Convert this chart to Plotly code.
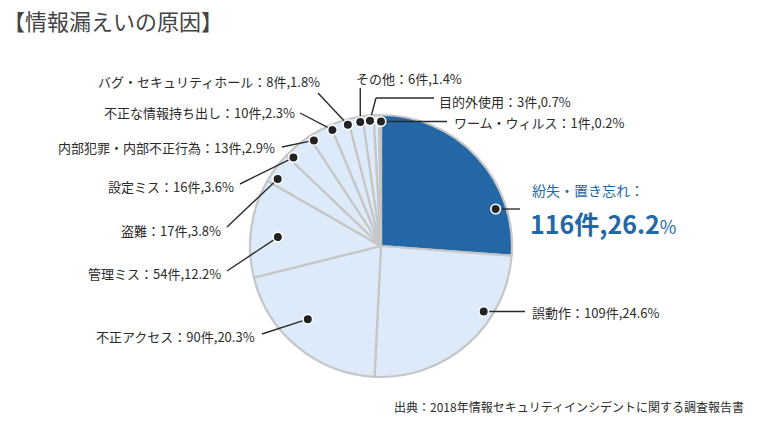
import math
import plotly.graph_objects as go

# ---- data ----
causes = ["紛失・置き忘れ", "誤動作", "不正アクセス", "管理ミス", "盗難", "設定ミス",
          "内部犯罪・内部不正行為", "不正な情報持ち出し", "バグ・セキュリティホール",
          "その他", "目的外使用", "ワーム・ウィルス"]
counts = [116, 109, 90, 54, 17, 16, 13, 10, 8, 6, 3, 1]
title_text = "【情報漏えいの原因】"
source_text = "出典：2018年情報セキュリティインシデントに関する調査報告書"

# ---- style / layout ----
W, H = 760, 429
CX, CY, R = 381, 246, 131
DARK = "#2467a7"
LIGHT = "#dceaf9"
EDGE = "#c6c6c6"
TXT = "#2b2b2b"
FONT = "Noto Sans CJK JP"

colors = [DARK] + [LIGHT] * (len(counts) - 1)
# leader-dot placement: angular shift (deg) from slice middle and radial fraction
dot_shift = [25, -16, 5.6, -3, -3.8, -4.9, -4.4, -4, -3.9, -3.8, -3, 0.4]
dot_rf = [0.92, 0.93, 0.79, 0.79, 0.94, 0.95, 0.955, 0.96, 0.96, 0.96, 0.96, 0.95]
# label anchor (x, y, xanchor), leader end (x, y) ; None -> take dot coordinate
label_pos = [None, (530, 312, "left"), (257, 336, "right"), (223, 273, "right"),
             (223, 230, "right"), (236, 186, "right"), (277, 147, "right"),
             (297, 112, "right"), (322, 81, "right"), (409, 78, "center"),
             (437, 101, "left"), (452, 122, "left")]
leader_end = [(520, None), (525, None), (262, 334), (227, 271), (227, 227), (240, 184),
              (282, 147), (300, 113), (318, 93), (None, 88), (434, 98), (447, None)]
elbow = [False] * 10 + [True, False]

total = sum(counts)

fig = go.Figure()
fig.add_trace(go.Pie(
    values=counts, labels=causes, sort=False, direction="clockwise", rotation=0,
    marker=dict(colors=colors, line=dict(color=EDGE, width=2.2)),
    textinfo="none", hoverinfo="skip", showlegend=False,
    domain=dict(x=[(CX - R) / W, (CX + R) / W], y=[1 - (CY + R) / H, 1 - (CY - R) / H]),
))
# invisible trace to activate cartesian axes used for leader shapes
fig.add_trace(go.Scatter(x=[0, W], y=[0, H], mode="markers", marker=dict(opacity=0),
                         hoverinfo="skip", showlegend=False))

# dot positions from data
dots_x, dots_y = [], []
cum = 0
for i, c in enumerate(counts):
    mid = (cum + c / 2) / total * 360 + dot_shift[i]
    cum += c
    rr = R * dot_rf[i]
    dots_x.append(CX + rr * math.sin(math.radians(mid)))
    dots_y.append(CY - rr * math.cos(math.radians(mid)))

shapes = []
for i in range(len(counts)):
    ex, ey = leader_end[i]
    ex = dots_x[i] if ex is None else ex
    ey = dots_y[i] if ey is None else ey
    pts = [(dots_x[i], dots_y[i])]
    if elbow[i]:
        pts.append((dots_x[i] + 6, ey))
    pts.append((ex, ey))
    for (x0, y0), (x1, y1) in zip(pts[:-1], pts[1:]):
        shapes.append(dict(type="line", xref="x", yref="y", x0=x0, y0=y0, x1=x1, y1=y1,
                           layer="above", line=dict(color=TXT, width=1.4)))
for i in range(len(counts)):
    shapes.append(dict(type="circle", xref="x", yref="y", xsizemode="pixel", ysizemode="pixel",
                       xanchor=dots_x[i], yanchor=dots_y[i], x0=-4.8, x1=4.8, y0=-4.8, y1=4.8,
                       layer="above", fillcolor="#222222", line=dict(color="white", width=1.6)))

ann = []
for i in range(1, len(counts)):
    x, y, xa = label_pos[i]
    pct = counts[i] / total * 100
    ann.append(dict(x=x, y=y, xref="x", yref="y", xanchor=xa, yanchor="middle",
                    text=f"{causes[i]}：{counts[i]}件,{pct:.1f}%", showarrow=False,
                    font=dict(family=FONT, size=13, color=TXT)))
pct0 = counts[0] / total * 100
ann.append(dict(x=530, y=190, xref="x", yref="y", xanchor="left", yanchor="middle",
                text=f"{causes[0]}：", showarrow=False,
                font=dict(family=FONT, size=14, color=DARK)))
ann.append(dict(x=528, y=223, xref="x", yref="y", xanchor="left", yanchor="middle",
                text=f"<b>{counts[0]}件,{pct0:.1f}</b><span style='font-size:18px'>%</span>",
                showarrow=False, font=dict(family=FONT, size=25, color=DARK)))
ann.append(dict(x=1, y=20, xref="x", yref="y", xanchor="left", yanchor="middle",
                text=title_text, showarrow=False, font=dict(family=FONT, size=22, color="#444444")))
ann.append(dict(x=746, y=406, xref="x", yref="y", xanchor="right", yanchor="middle",
                text=source_text, showarrow=False, font=dict(family=FONT, size=12, color=TXT)))

fig.update_layout(
    width=W, height=H, margin=dict(l=0, r=0, t=0, b=0),
    paper_bgcolor="white", plot_bgcolor="rgba(0,0,0,0)",
    xaxis=dict(range=[0, W], visible=False, fixedrange=True),
    yaxis=dict(range=[H, 0], visible=False, fixedrange=True),
    annotations=ann, shapes=shapes,
)
fig.write_html("out.html", config={"displayModeBar": False},
               post_script="document.body.style.margin='0';")
